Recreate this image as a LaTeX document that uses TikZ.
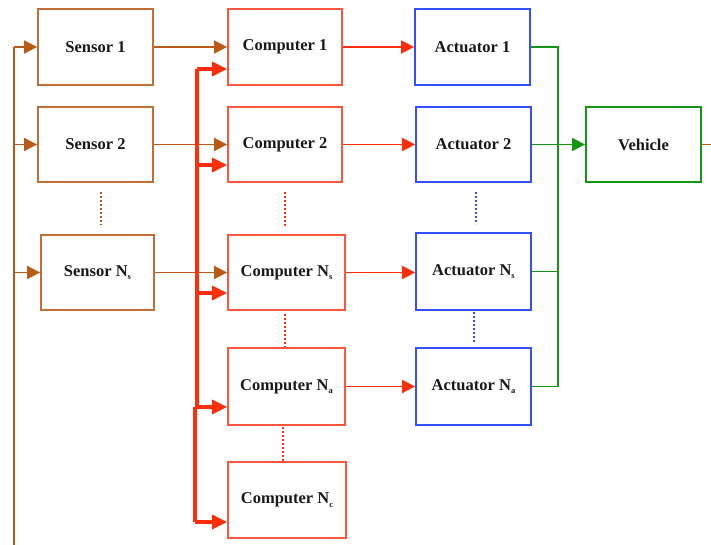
\documentclass[tikz,border=0pt]{standalone}
\usepackage{fontspec}
\setmainfont{Liberation Serif}
\usetikzlibrary{arrows.meta}
\definecolor{cbrown}{RGB}{185,90,25}
\definecolor{cbrownbox}{RGB}{195,110,55}
\definecolor{cred}{RGB}{255,45,10}
\definecolor{credbox}{RGB}{255,85,60}
\definecolor{cblue}{RGB}{50,80,255}
\definecolor{cgreen}{RGB}{20,150,20}
\newcommand{\lsub}[1]{\raisebox{-0.5ex}{\fontsize{8.5}{8.5}\selectfont #1}}
\tikzset{
  blk/.style={draw, line width=1.8pt, rectangle, inner sep=0pt, fill=white,
    font=\fontsize{16.5}{19}\selectfont\bfseries, text=black!90},
  sbox/.style={blk, draw=cbrownbox},
  cbox/.style={blk, draw=credbox},
  abox/.style={blk, draw=cblue},
  vbox/.style={blk, draw=cgreen},
  brownln/.style={draw=cbrown, line width=1.8pt},
  brownar/.style={brownln, -{Triangle[length=13pt,width=13pt]}},
  redln/.style={draw=cred, line width=1.8pt},
  redar/.style={redln, -{Triangle[length=13pt,width=13pt]}},
  redbus/.style={draw=cred, line width=3.2pt},
  redbusar/.style={redbus, -{Triangle[length=15pt,width=14pt]}},
  greenln/.style={draw=cgreen, line width=1.8pt},
  greenar/.style={greenln, -{Triangle[length=13pt,width=13pt]}},
  dots/.style={line width=2.2pt, dash pattern=on 2.4pt off 1.6pt},
}
\begin{document}
\begin{tikzpicture}[x=1pt,y=-1pt]
\useasboundingbox (0,0) rectangle (711,545);
% sensors
\node[sbox, minimum width=115pt, minimum height=76pt] (s1) at (95.5,47) {Sensor 1};
\node[sbox, minimum width=115pt, minimum height=75pt] (s2) at (95.5,144.5) {Sensor 2};
\node[sbox, minimum width=113pt, minimum height=75pt] (sn) at (97.5,272.5) {Sensor N\lsub{s}};
% computers
\node[cbox, minimum width=114pt, minimum height=76pt] (c1) at (285,47) {Computer 1};
\node[cbox, minimum width=114pt, minimum height=75pt] (c2) at (285,144.5) {Computer 2};
\node[cbox, minimum width=117pt, minimum height=75pt] (cns) at (286.5,272.5) {Computer N\lsub{s}};
\node[cbox, minimum width=117pt, minimum height=77pt] (cna) at (286.5,386.5) {Computer N\lsub{a}};
\node[cbox, minimum width=118pt, minimum height=76pt] (cnc) at (287,500) {Computer N\lsub{c}};
% actuators
\node[abox, minimum width=115pt, minimum height=76pt] (a1) at (472.5,47) {Actuator 1};
\node[abox, minimum width=115pt, minimum height=75pt] (a2) at (473.5,144.5) {Actuator 2};
\node[abox, minimum width=115pt, minimum height=77pt] (ans) at (473.5,271.5) {Actuator N\lsub{s}};
\node[abox, minimum width=115pt, minimum height=77pt] (ana) at (473.5,386.5) {Actuator N\lsub{a}};
% vehicle
\node[vbox, minimum width=115pt, minimum height=75pt] (v) at (643.5,144.5) {Vehicle};

% feedback line (brown)
\coordinate (fbB) at (14,545);
\coordinate (fbT) at (14,47);
\coordinate (fb2) at (14,144.5);
\coordinate (fb3) at (14,272.5);
\coordinate (vout) at (711,144.5);
\draw[brownln] (fbB) -- (fbT);
\draw[brownar] (fbT) -- (s1.west);
\draw[brownar] (fb2) -- (s2.west);
\draw[brownar] (fb3) -- (sn.west);
\draw[brownln] (v.east) -- (vout);

% sensor -> computer
\draw[brownar] (s1.east) -- (c1.west);
\draw[brownar] (s2.east) -- (c2.west);
\draw[brownar] (sn.east) -- (cns.west);

% red bus
\coordinate (b1) at (197,69);
\coordinate (b2) at (197,165);
\coordinate (b3) at (197,293);
\coordinate (b4) at (197,407);
\coordinate (b4l) at (195,407);
\coordinate (b5) at (195,522);
\draw[redbus] (b1) -- (b4);
\draw[redbus] (b4l) -- (b5);
\draw[redbusar] (b1) -- (b1 -| c1.west);
\draw[redbusar] (b2) -- (b2 -| c2.west);
\draw[redbusar] (b3) -- (b3 -| cns.west);
\draw[redbusar] (b4l) -- (b4 -| cna.west);
\draw[redbusar] (b5) -- (b5 -| cnc.west);

% computer -> actuator
\draw[redar] (c1.east) -- (a1.west);
\draw[redar] (c2.east) -- (a2.west);
\draw[redar] (cns.east) -- (cns.east -| ans.west);
\draw[redar] (cna.east) -- (ana.west);

% green
\coordinate (g1) at (558,47);
\coordinate (g3) at (558,271.5);
\coordinate (g4) at (558,386.5);
\draw[greenln] (a1.east) -- (g1) -- (g4) -- (ana.east);
\draw[greenln] (ans.east) -- (g3);
\draw[greenar] (a2.east) -- (v.west);

% dotted continuation marks
\coordinate (d1t) at (101,192); \coordinate (d1b) at (101,225);
\draw[dots, draw=cbrown] (d1t) -- (d1b);
\coordinate (d2t) at (285,192); \coordinate (d2b) at (285,227);
\draw[dots, draw=cred] (d2t) -- (d2b);
\coordinate (d3t) at (285,314); \coordinate (d3b) at (285,347);
\draw[dots, draw=cred] (d3t) -- (d3b);
\coordinate (d4t) at (283,427); \coordinate (d4b) at (283,461);
\draw[dots, draw=cred] (d4t) -- (d4b);
\coordinate (d5t) at (476,192); \coordinate (d5b) at (476,224);
\draw[dots, draw=cblue] (d5t) -- (d5b);
\coordinate (d6t) at (474,312); \coordinate (d6b) at (474,343);
\draw[dots, draw=cblue] (d6t) -- (d6b);
\end{tikzpicture}
\end{document}
